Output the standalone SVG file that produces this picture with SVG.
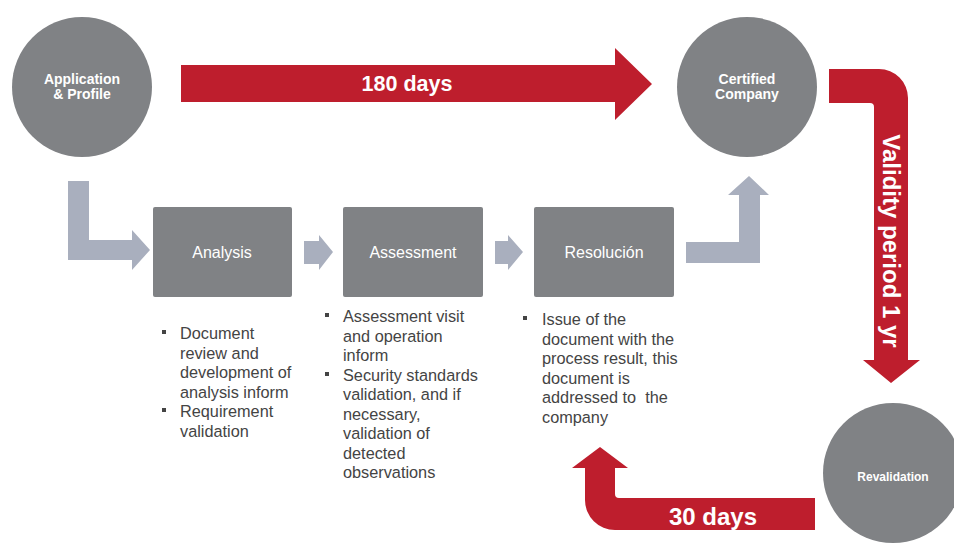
<svg xmlns="http://www.w3.org/2000/svg" width="954" height="545" viewBox="0 0 954 545">
<style>
.circ{fill:#808285}
.box{fill:#808285}
.red{fill:#BE1E2D}
.gray{fill:#A9AFBE}
.ct{font-family:"Liberation Sans",Arial,sans-serif;font-weight:bold;fill:#fff;text-anchor:middle}
.bt{font-family:"Liberation Sans",Arial,sans-serif;font-size:16px;fill:#fff;text-anchor:middle}
.big{font-family:"Liberation Sans",Arial,sans-serif;font-size:24px;font-weight:bold;fill:#fff;text-anchor:middle}
.li{font-family:"Liberation Sans",Arial,sans-serif;font-size:16.3px;fill:#444}
.bul{fill:#444}
</style>
<rect width="954" height="545" fill="#fff"/>
<g id="connectors">
<path class="red" d="M181 65 H615 V48 L652 84 L615 120 V102 H181 Z"/>
<text class="big" style="font-size:21.5px" x="407" y="91">180 days</text>
<path class="red" d="M829 69 H879 A29 29 0 0 1 908 98 V360 H920 L891 383 L863 360 H874 V107 A4 4 0 0 0 870 103 H829 Z"/>
<text class="big" transform="translate(883 241) rotate(90)">Validity period 1 yr</text>
<path class="red" d="M815 498 V530 H615 A30 30 0 0 1 585 500 V468 H572 L600 447 L628 468 H615 V494 A4 4 0 0 0 619 498 Z"/>
<text class="big" x="713" y="525">30 days</text>
<path class="gray" d="M68 181 H89 V240 H132 V230 L150 250 L132 270 V260 H68 Z"/>
<path class="gray" d="M304 241 H319 V235 L333 252 L319 270 V264 H304 Z"/>
<path class="gray" d="M495 241 H508 V235 L523 252 L508 270 V264 H495 Z"/>
<path class="gray" d="M686 242 H739 V195 H728 L749 176 L769 195 H760 V263 H686 Z"/>
</g>
<g id="application">
<circle class="circ" cx="82" cy="87" r="70"/>
<text class="ct" font-size="14" x="82" y="84">Application</text>
<text class="ct" font-size="14" x="82" y="99">&amp; Profile</text>
</g>
<g id="certified">
<circle class="circ" cx="747" cy="87" r="70"/>
<text class="ct" font-size="14" x="747" y="84">Certified</text>
<text class="ct" font-size="14" x="747" y="99">Company</text>
</g>
<g id="revalidation">
<circle class="circ" cx="893" cy="473" r="70"/>
<text class="ct" font-size="12" x="893" y="481">Revalidation</text>
</g>
<g id="analysis">
<rect class="box" x="153" y="207" width="139" height="90" rx="2"/>
<text class="bt" x="222" y="258">Analysis</text>
<rect class="bul" x="162" y="330" width="4" height="4"/>
<rect class="bul" x="162" y="408" width="4" height="4"/>
<text class="li" x="180"><tspan x="180" y="339">Document</tspan><tspan x="180" y="358.5">review and</tspan><tspan x="180" y="378">development of</tspan><tspan x="180" y="397.5">analysis inform</tspan><tspan x="180" y="417">Requirement</tspan><tspan x="180" y="436.5">validation</tspan></text>
</g>
<g id="assessment">
<rect class="box" x="343" y="207" width="140" height="90" rx="2"/>
<text class="bt" x="413" y="258">Assessment</text>
<rect class="bul" x="325" y="313" width="4" height="4"/>
<rect class="bul" x="325" y="372" width="4" height="4"/>
<text class="li"><tspan x="343" y="322">Assessment visit</tspan><tspan x="343" y="341.5">and operation</tspan><tspan x="343" y="361">inform</tspan><tspan x="343" y="380.5">Security standards</tspan><tspan x="343" y="400">validation, and if</tspan><tspan x="343" y="419.5">necessary,</tspan><tspan x="343" y="439">validation of</tspan><tspan x="343" y="458.5">detected</tspan><tspan x="343" y="478">observations</tspan></text>
</g>
<g id="resolucion">
<rect class="box" x="534" y="207" width="140" height="90" rx="2"/>
<text class="bt" x="604" y="258">Resolución</text>
<rect class="bul" x="523" y="316" width="4" height="4"/>
<text class="li"><tspan x="542" y="325">Issue of the</tspan><tspan x="542" y="344.6">document with the</tspan><tspan x="542" y="364.2">process result, this</tspan><tspan x="542" y="383.8">document is</tspan><tspan x="542" y="403.4">addressed to&#160; the</tspan><tspan x="542" y="423">company</tspan></text>
</g>
</svg>
